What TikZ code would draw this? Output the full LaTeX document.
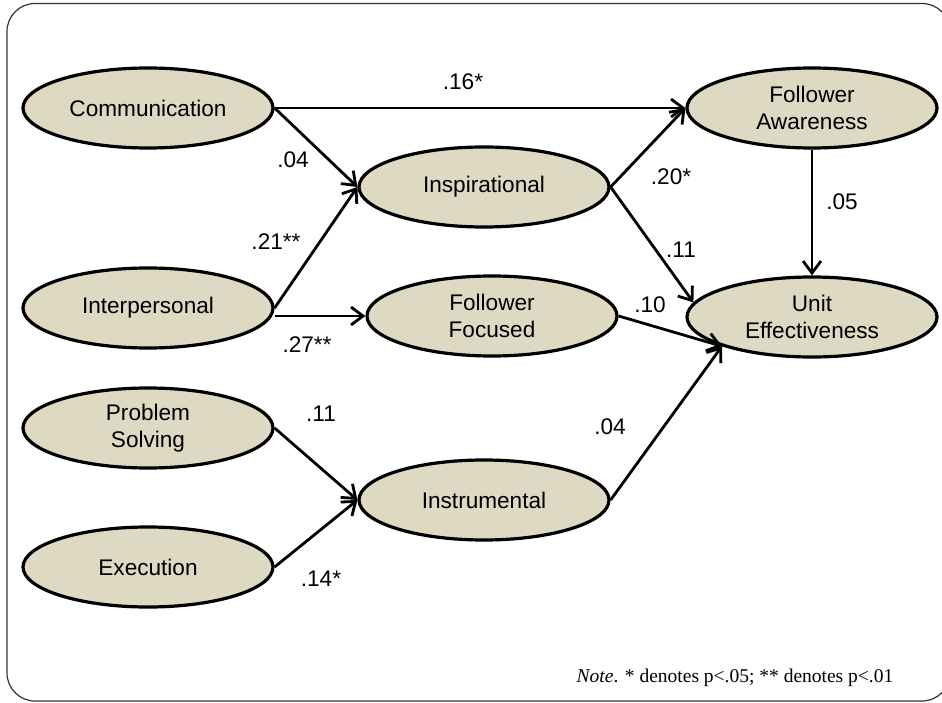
\documentclass[tikz,border=0pt]{standalone}
\usepackage{fontspec}
\setmainfont{Liberation Serif}
\newfontfamily\arialf{Liberation Sans}
\usetikzlibrary{shapes.geometric,arrows.meta}
\definecolor{tanfill}{HTML}{DDD9C3}
\begin{document}
\begin{tikzpicture}[x=1pt,y=-1pt,
  lat/.style={ellipse, draw=black, line width=3.2pt, fill=tanfill,
    minimum width=250pt, minimum height=80pt, inner sep=0pt, align=center,
    font=\arialf\fontsize{22.6}{27}\selectfont},
  conn/.style={line width=2.8pt, line join=miter,
    -{Straight Barb[length=12pt,width=18pt]}},
  lbl/.style={font=\arialf\fontsize{22.6}{27}\selectfont, inner sep=0pt}
]
\fill[white] (0,0) rectangle (942,703);
\useasboundingbox (0,0) rectangle (942,703);
\begin{scope}
\clip (0,0) rectangle (942,703);
\draw[line width=1.2pt, draw=black!80, rounded corners=28pt] (7,3.5) rectangle (950,701);
\end{scope}

\node[lat] (comm) at (148,108) {Communication};
\node[lat] (inter) at (148,308) {Interpersonal};
\node[lat] (prob) at (148,428) {Problem\\Solving};
\node[lat] (exec) at (148,567) {Execution};
\node[lat] (insp) at (484,187) {Inspirational};
\node[lat] (ff) at (492,316) {Follower\\Focused};
\node[lat] (instr) at (484,500) {Instrumental};
\node[lat] (fa) at (812,108) {Follower\\Awareness};
\node[lat] (ue) at (812,317) {Unit\\Effectiveness};

\draw[conn] (comm.east) -- (fa.west);
\draw[conn] (comm.east) -- (insp.west);
\draw[conn] (inter.east) -- (insp.west);
\draw[conn] (inter.east |- ff.west) -- (ff.west);
\draw[conn] (insp.east) -- (fa.west);
\draw[conn] (insp.east) -- (ue.173);
\draw[conn] (fa.south) -- (ue.north);
\draw[conn] (ff.east) -- (ue.198);
\draw[conn] (instr.east) -- (ue.198);
\draw[conn] (prob.east) -- (instr.west);
\draw[conn] (exec.east) -- (instr.west);

\node[lbl] (l16) at (463,82) {.16*};
\node[lbl] (l04a) at (293,160) {.04};
\node[lbl] (l21) at (276,242) {.21**};
\node[lbl] (l27) at (307,345) {.27**};
\node[lbl] (l20) at (671,177) {.20*};
\node[lbl] (l11a) at (681,250) {.11};
\node[lbl] (l05) at (842,202) {.05};
\node[lbl] (l10) at (650,305) {.10};
\node[lbl] (l04b) at (610,427) {.04};
\node[lbl] (l11b) at (321,414) {.11};
\node[lbl] (l14) at (321,579) {.14*};

\node[inner sep=0pt, font=\fontsize{19.5}{23}\selectfont] (note) at (735,678)
  {\textit{Note}. * denotes p<.05; ** denotes p<.01};
\end{tikzpicture}
\end{document}
